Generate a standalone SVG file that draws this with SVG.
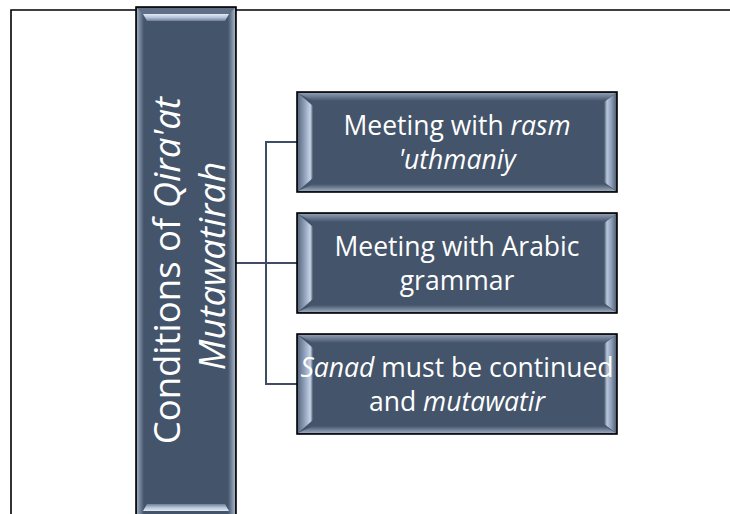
<svg xmlns="http://www.w3.org/2000/svg" width="730" height="514" viewBox="0 0 730 514">
  <defs>
    <linearGradient id="gL" x1="0" y1="0" x2="1" y2="0">
      <stop offset="0" stop-color="#5b6b83"/>
      <stop offset="0.5" stop-color="#98a9c1"/>
      <stop offset="0.82" stop-color="#c6d3e4"/>
      <stop offset="0.93" stop-color="#7d8ca3"/>
      <stop offset="1" stop-color="#44546a"/>
    </linearGradient>
    <linearGradient id="gR" x1="1" y1="0" x2="0" y2="0">
      <stop offset="0" stop-color="#55647c"/>
      <stop offset="0.4" stop-color="#8e9fb8"/>
      <stop offset="0.75" stop-color="#b9c7da"/>
      <stop offset="1" stop-color="#44546a"/>
    </linearGradient>
    <linearGradient id="gT" x1="0" y1="0" x2="0" y2="1">
      <stop offset="0" stop-color="#8e9cb2"/>
      <stop offset="1" stop-color="#44546a"/>
    </linearGradient>
    <linearGradient id="gB" x1="0" y1="0" x2="0" y2="1">
      <stop offset="0" stop-color="#44546a"/>
      <stop offset="1" stop-color="#9aa8bc"/>
    </linearGradient>
    <linearGradient id="gBarT" x1="0" y1="0" x2="0" y2="1">
      <stop offset="0" stop-color="#e2eaf4"/>
      <stop offset="0.5" stop-color="#b4c3d8"/>
      <stop offset="1" stop-color="#6f7f98"/>
    </linearGradient>
    <linearGradient id="gBarB" x1="0" y1="1" x2="0" y2="0">
      <stop offset="0" stop-color="#e2eaf4"/>
      <stop offset="0.5" stop-color="#b4c3d8"/>
      <stop offset="1" stop-color="#6f7f98"/>
    </linearGradient>
    <linearGradient id="gML" x1="0" y1="0" x2="1" y2="0">
      <stop offset="0" stop-color="#9aa8bc"/>
      <stop offset="1" stop-color="#44546a"/>
    </linearGradient>
    <linearGradient id="gMR" x1="1" y1="0" x2="0" y2="0">
      <stop offset="0" stop-color="#a5b3c6"/>
      <stop offset="1" stop-color="#44546a"/>
    </linearGradient>
    <g id="bevel">
      <rect x="0" y="0" width="320" height="100" fill="#44546a"/>
      <polygon points="1,1 319,1 307,9 16,9" fill="url(#gT)"/>
      <polygon points="1,99 16,92 307,92 319,99" fill="url(#gB)"/>
      <polygon points="1,1 16,14 16,86 1,99" fill="url(#gL)"/>
      <polygon points="319,1 307,10 307,90 319,99" fill="url(#gR)"/>
      <rect x="0" y="0" width="320" height="100" fill="none" stroke="#000" stroke-width="1.6"/>
    </g>
  </defs>
  <style>
    .frame { fill: none; stroke: #000; stroke-width: 1.6; }
    .conn { fill: none; stroke: #3e4d63; stroke-width: 2; }
    .t { font-family: "Open Sans", "Noto Sans", sans-serif; fill: #ffffff; text-anchor: middle; }
    .c { font-size: 26.5px; }
    .m { font-size: 36.5px; }
    .i { font-style: italic; }
  </style>

  <path class="frame" d="M11,514 V10 H730"/>

  <g id="connectors">
    <path class="conn" d="M236,263 H266"/>
    <path class="conn" d="M297,142 H266 V384 H297"/>
    <path class="conn" d="M266,263 H297"/>
  </g>

  <g id="main">
    <rect x="136" y="7" width="100" height="512" fill="#44546a"/>
    <rect x="137" y="8" width="7" height="510" fill="url(#gML)"/>
    <rect x="228" y="8" width="7" height="510" fill="url(#gMR)"/>
    <polygon points="137,8 235,8 229,14 143,14" fill="#5f6f87"/>
    <polygon points="143,14 229,14 225,21 147,21" fill="url(#gBarT)"/>
    <polygon points="147,504 225,504 229,511 143,511" fill="url(#gBarB)"/>
    <rect x="136" y="7" width="100" height="512" fill="none" stroke="#000" stroke-width="1.6"/>
    <text class="t m" transform="translate(186,266) rotate(-90)">
      <tspan x="0" y="-6">Conditions of <tspan class="i">Qira'at</tspan></tspan>
      <tspan class="i" x="0" y="39">Mutawatirah</tspan>
    </text>
  </g>

  <g id="node1">
    <use href="#bevel" x="297" y="92"/>
    <text class="t c"><tspan x="457" y="135">Meeting with <tspan class="i">rasm</tspan></tspan><tspan class="i" x="457" y="169">'uthmaniy</tspan></text>
  </g>

  <g id="node2">
    <use href="#bevel" x="297" y="213"/>
    <text class="t c"><tspan x="457" y="256">Meeting with Arabic</tspan><tspan x="457" y="290">grammar</tspan></text>
  </g>

  <g id="node3">
    <use href="#bevel" x="297" y="334"/>
    <text class="t c"><tspan x="457" y="377"><tspan class="i">Sanad</tspan> must be continued</tspan><tspan x="457" y="411">and <tspan class="i">mutawatir</tspan></tspan></text>
  </g>
</svg>
